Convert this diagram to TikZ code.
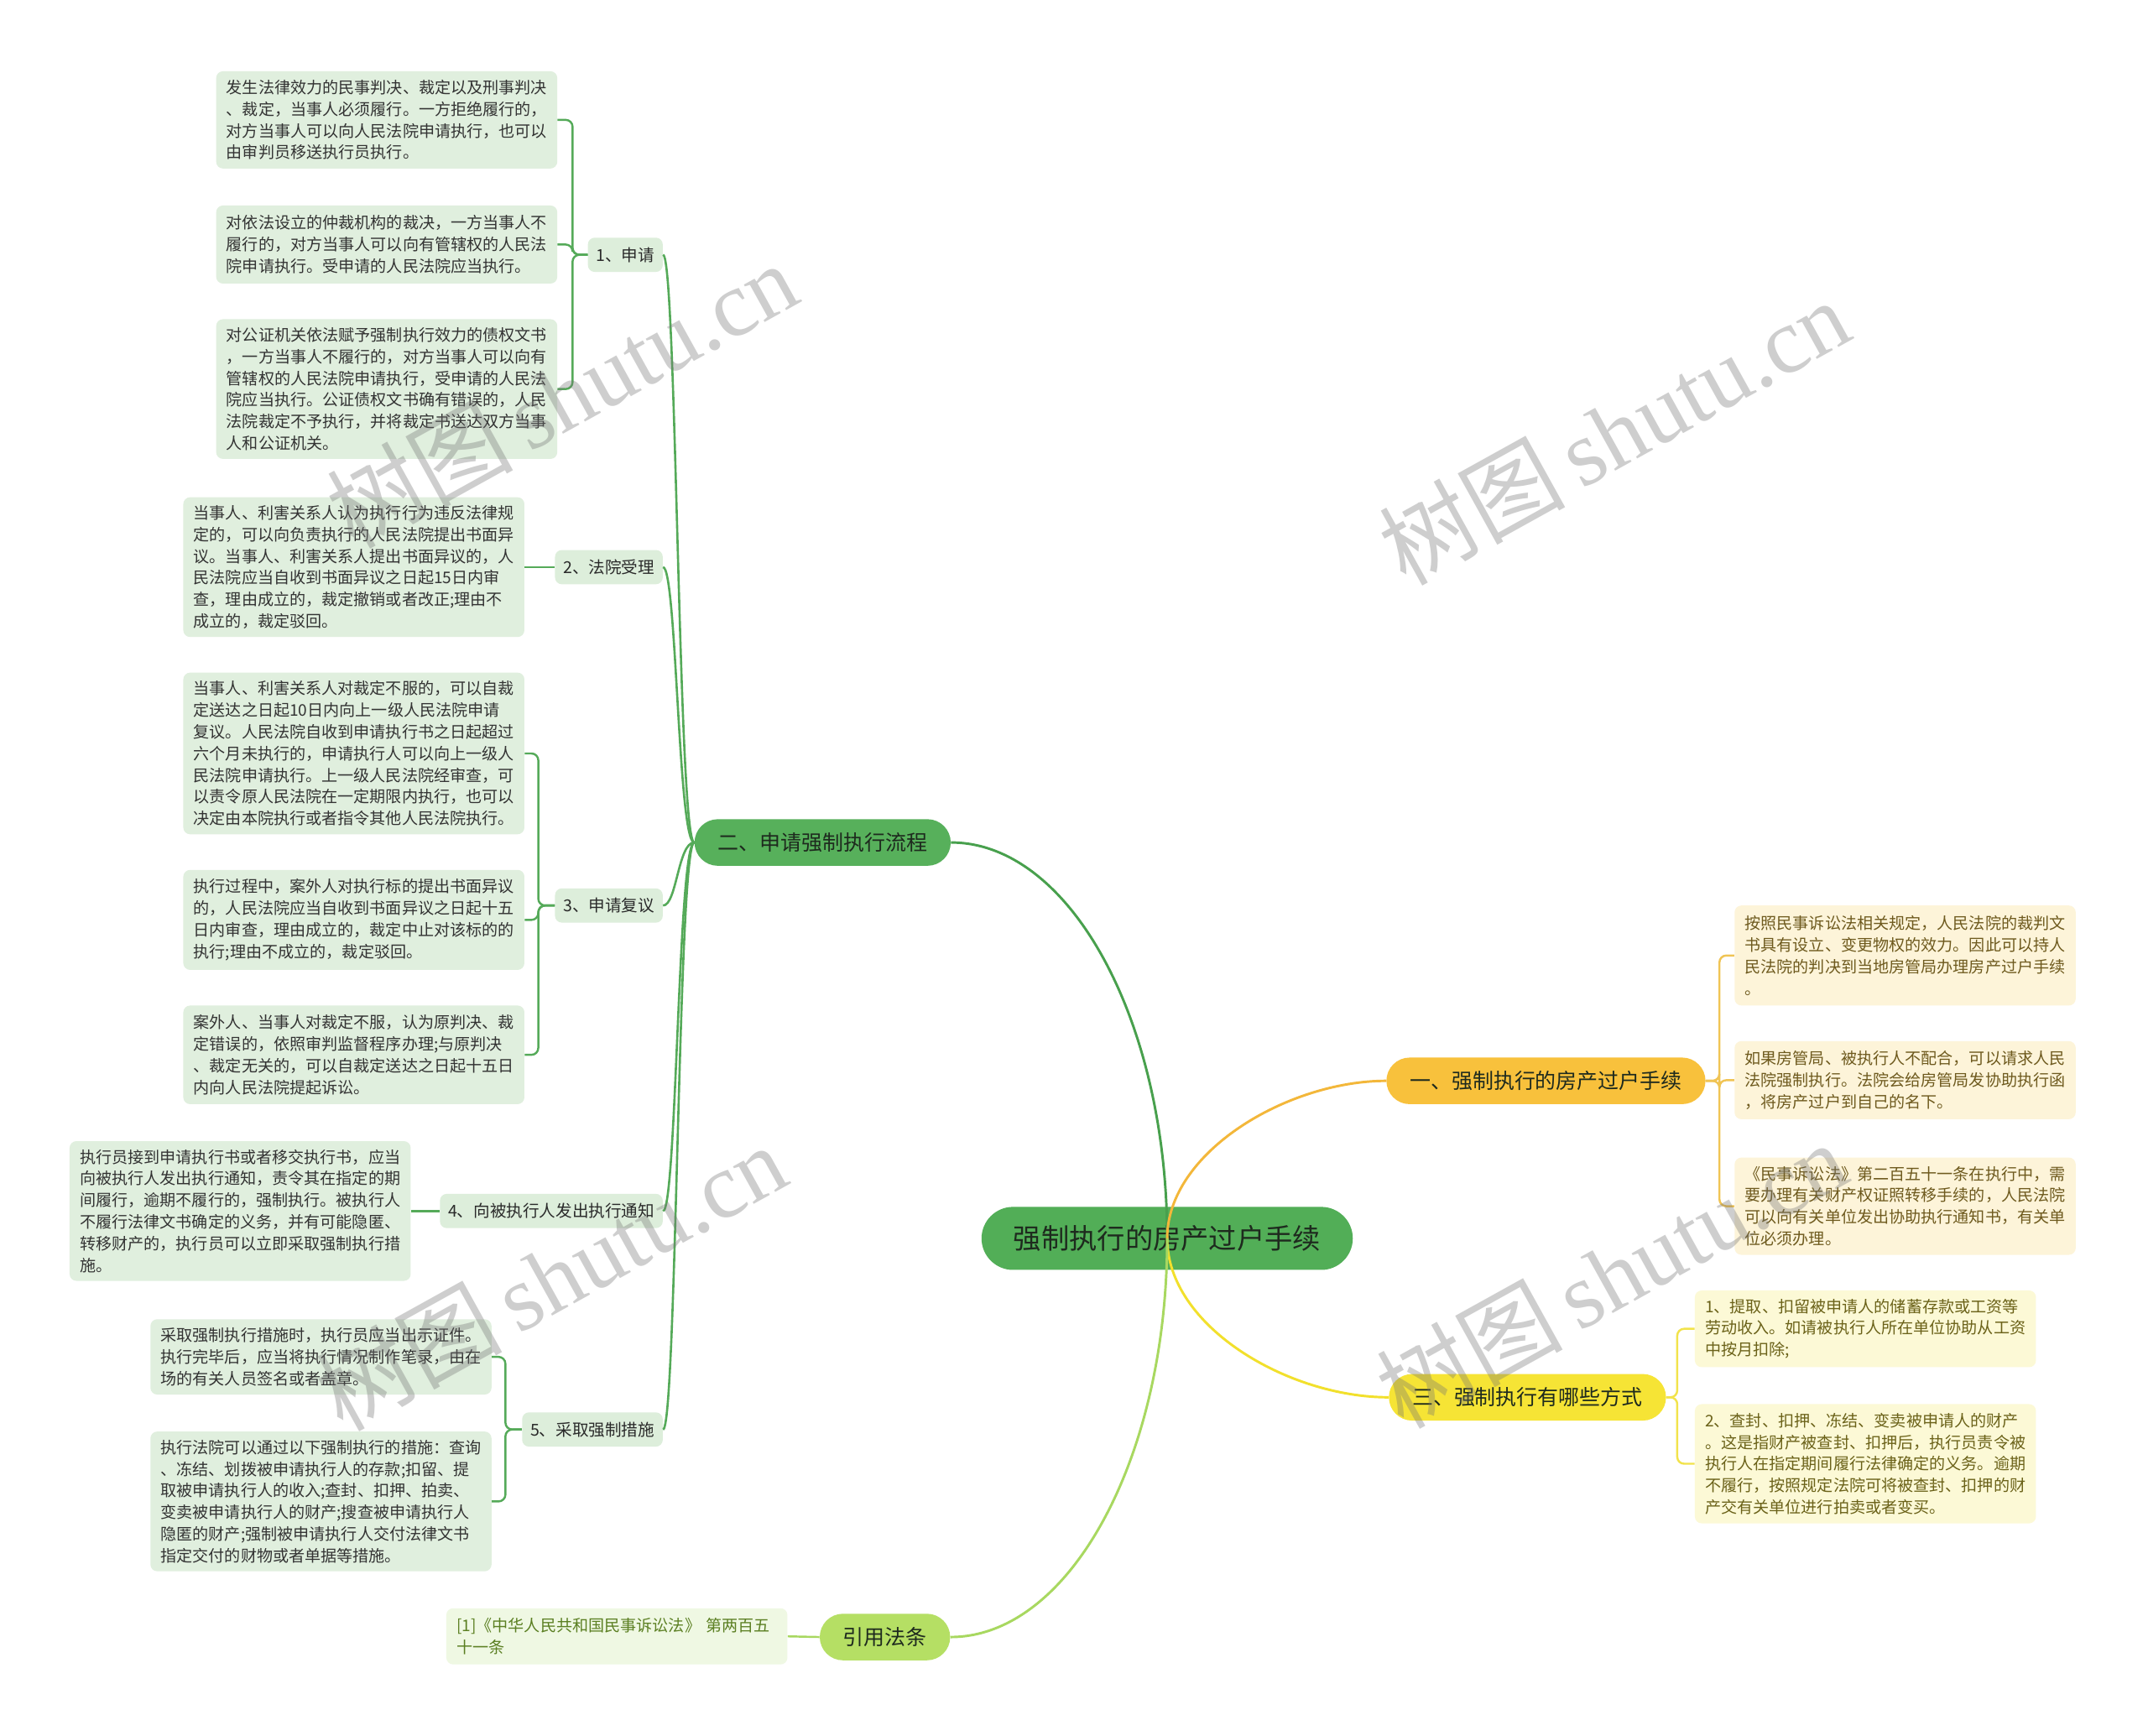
\documentclass[tikz,border=0pt]{standalone}
\usepackage{fontspec}
\setmainfont{Noto Sans CJK SC}
\newfontfamily\wmlatin{Liberation Serif}
\newfontfamily\wmcjk{Noto Sans CJK SC}
\usetikzlibrary{calc}
\definecolor{centralfill}{HTML}{52AE57}
\definecolor{twofill}{HTML}{57B05B}
\definecolor{subfill}{HTML}{DDEEDB}
\definecolor{leaffill}{HTML}{E0EFDE}
\definecolor{linetwo}{HTML}{48A04D}
\definecolor{linesub}{HTML}{55AA59}
\definecolor{onefill}{HTML}{F8C13C}
\definecolor{lineone}{HTML}{F3B73A}
\definecolor{dfill}{HTML}{FDF4D9}
\definecolor{dline}{HTML}{F0C454}
\definecolor{dtext}{HTML}{6E5A1E}
\definecolor{threefill}{HTML}{F6E435}
\definecolor{linethree}{HTML}{F2E02C}
\definecolor{efill}{HTML}{FCF9D6}
\definecolor{eline}{HTML}{F2E34B}
\definecolor{etext}{HTML}{6B6219}
\definecolor{citefill}{HTML}{B5DF64}
\definecolor{linecite}{HTML}{A8D860}
\definecolor{citebox}{HTML}{EFF8E3}
\definecolor{citetext}{HTML}{5B7F22}
\definecolor{darktext}{HTML}{1E2A1E}
\definecolor{subtext}{HTML}{2A2A2A}
\definecolor{leaftext}{HTML}{333333}
\newcommand\leaffs{\fontsize{11.7pt}{15.8pt}\selectfont}
\newcommand\subfs{\fontsize{12pt}{14pt}\selectfont}
\newcommand\branchfs{\fontsize{15.3pt}{18pt}\selectfont}
\newcommand\centralfs{\fontsize{20.4pt}{24pt}\selectfont}
\newcommand\wmfs{\fontsize{68pt}{68pt}\selectfont}
\tikzset{
  centralnode/.style={fill=centralfill, rounded corners=23pt, minimum width=271pt, minimum height=46pt, inner xsep=0pt, font=\centralfs, text=darktext},
  branchnode/.style={rounded corners=17pt, minimum height=34pt, inner xsep=17pt, inner ysep=0pt, font=\branchfs, text=darktext},
  subnode/.style={fill=subfill, rounded corners=5pt, minimum height=25pt, inner xsep=6pt, inner ysep=0pt, font=\subfs, text=subtext},
  leafbox/.style={rounded corners=5pt, text width=234pt, align=left, inner xsep=7.5pt, inner ysep=3pt, font=\leaffs},
  greenleaf/.style={leafbox, fill=leaffill, text=leaftext},
  dleaf/.style={leafbox, fill=dfill, text=dtext},
  eleaf/.style={leafbox, fill=efill, text=etext},
  citeleaf/.style={leafbox, fill=citebox, text=citetext},
  mainline/.style={line width=1.8pt},
  subline/.style={draw=linesub, line width=1.6pt},
  bracket/.style={line width=1.5pt, rounded corners=5pt},
  watermark/.style={text=black!55, opacity=0.35, rotate=29, inner sep=0pt}
}
\begin{document}
\begin{tikzpicture}[x=1pt,y=-1pt]
\useasboundingbox (0,0) rectangle (1568,1267);
\fill[white] (0,0) rectangle (1568,1267);

% central and main branches
\node[centralnode] (C) at (852,904) {强制执行的房产过户手续};
\node[branchnode, fill=twofill] (B2) at (600.5,615) {二、申请强制执行流程};
\node[branchnode, fill=onefill] (B1) at (1128.5,789) {一、强制执行的房产过户手续};
\node[branchnode, fill=threefill] (B3) at (1115,1020) {三、强制执行有哪些方式};
\node[branchnode, fill=citefill] (B4) at (646,1195) {引用法条};

% sub nodes of branch two
\node[subnode, anchor=east] (S1) at (484,186) {1、申请};
\node[subnode, anchor=east] (S2) at (484,414) {2、法院受理};
\node[subnode, anchor=east] (S3) at (484,661) {3、申请复议};
\node[subnode, anchor=east] (S4) at (484,884) {4、向被执行人发出执行通知};
\node[subnode, anchor=east] (S5) at (484,1043.5) {5、采取强制措施};

% leaves of 1
\node[greenleaf, anchor=east, minimum height=71pt] (A1) at (407,87.5) {发生法律效力的民事判决、裁定以及刑事判决\\、裁定，当事人必须履行。一方拒绝履行的，\\对方当事人可以向人民法院申请执行，也可以\\由审判员移送执行员执行。};
\node[greenleaf, anchor=east, minimum height=57pt] (A2) at (407,178.5) {对依法设立的仲裁机构的裁决，一方当事人不\\履行的，对方当事人可以向有管辖权的人民法\\院申请执行。受申请的人民法院应当执行。};
\node[greenleaf, anchor=east, minimum height=102pt] (A3) at (407,284) {对公证机关依法赋予强制执行效力的债权文书\\，一方当事人不履行的，对方当事人可以向有\\管辖权的人民法院申请执行，受申请的人民法\\院应当执行。公证债权文书确有错误的，人民\\法院裁定不予执行，并将裁定书送达双方当事\\人和公证机关。};

% leaf of 2
\node[greenleaf, anchor=east, minimum height=102pt] (L2) at (383,414) {当事人、利害关系人认为执行行为违反法律规\\定的，可以向负责执行的人民法院提出书面异\\议。当事人、利害关系人提出书面异议的，人\\民法院应当自收到书面异议之日起15日内审\\查，理由成立的，裁定撤销或者改正;理由不\\成立的，裁定驳回。};

% leaves of 3
\node[greenleaf, anchor=east, minimum height=118pt] (M1) at (383,550) {当事人、利害关系人对裁定不服的，可以自裁\\定送达之日起10日内向上一级人民法院申请\\复议。人民法院自收到申请执行书之日起超过\\六个月未执行的，申请执行人可以向上一级人\\民法院申请执行。上一级人民法院经审查，可\\以责令原人民法院在一定期限内执行，也可以\\决定由本院执行或者指令其他人民法院执行。};
\node[greenleaf, anchor=east, minimum height=73pt] (M2) at (383,671.5) {执行过程中，案外人对执行标的提出书面异议\\的，人民法院应当自收到书面异议之日起十五\\日内审查，理由成立的，裁定中止对该标的的\\执行;理由不成立的，裁定驳回。};
\node[greenleaf, anchor=east, minimum height=72pt] (M3) at (383,770) {案外人、当事人对裁定不服，认为原判决、裁\\定错误的，依照审判监督程序办理;与原判决\\、裁定无关的，可以自裁定送达之日起十五日\\内向人民法院提起诉讼。};

% leaf of 4
\node[greenleaf, anchor=east, minimum height=102pt] (L4) at (300,884) {执行员接到申请执行书或者移交执行书，应当\\向被执行人发出执行通知，责令其在指定的期\\间履行，逾期不履行的，强制执行。被执行人\\不履行法律文书确定的义务，并有可能隐匿、\\转移财产的，执行员可以立即采取强制执行措\\施。};

% leaves of 5
\node[greenleaf, anchor=east, minimum height=55pt] (N1) at (359,990.5) {采取强制执行措施时，执行员应当出示证件。\\执行完毕后，应当将执行情况制作笔录，由在\\场的有关人员签名或者盖章。};
\node[greenleaf, anchor=east, minimum height=102pt] (N2) at (359,1096) {执行法院可以通过以下强制执行的措施：查询\\、冻结、划拨被申请执行人的存款;扣留、提\\取被申请执行人的收入;查封、扣押、拍卖、\\变卖被申请执行人的财产;搜查被申请执行人\\隐匿的财产;强制被申请执行人交付法律文书\\指定交付的财物或者单据等措施。};

% citation leaf
\node[citeleaf, anchor=east, minimum height=41pt] (Q1) at (575,1194.5) {[1]《中华人民共和国民事诉讼法》~第两百五\\十一条};

% leaves of branch one
\node[dleaf, anchor=west, minimum height=73pt] (D1) at (1266,697.5) {按照民事诉讼法相关规定，人民法院的裁判文\\书具有设立、变更物权的效力。因此可以持人\\民法院的判决到当地房管局办理房产过户手续\\。};
\node[dleaf, anchor=west, minimum height=57pt] (D2) at (1266,788.5) {如果房管局、被执行人不配合，可以请求人民\\法院强制执行。法院会给房管局发协助执行函\\，将房产过户到自己的名下。};
\node[dleaf, anchor=west, minimum height=71pt] (D3) at (1266,880.5) {《民事诉讼法》第二百五十一条在执行中，需\\要办理有关财产权证照转移手续的，人民法院\\可以向有关单位发出协助执行通知书，有关单\\位必须办理。};

% leaves of branch three
\node[eleaf, anchor=west, minimum height=56pt] (E1) at (1237,970) {1、提取、扣留被申请人的储蓄存款或工资等\\劳动收入。如请被执行人所在单位协助从工资\\中按月扣除;};
\node[eleaf, anchor=west, minimum height=87pt] (E2) at (1237,1068.5) {2、查封、扣押、冻结、变卖被申请人的财产\\。这是指财产被查封、扣押后，执行员责令被\\执行人在指定期间履行法律确定的义务。逾期\\不履行，按照规定法院可将被查封、扣押的财\\产交有关单位进行拍卖或者变买。};

% connectors from central node
\draw[mainline, draw=linetwo] (C.center) .. controls (852,745) and (781,615) .. (B2.east);
\draw[mainline, draw=lineone] (C.center) .. controls (852,841) and (940,789) .. (B1.west);
\draw[mainline, draw=linethree] (C.center) .. controls (852,968) and (940,1020) .. (B3.west);
\draw[mainline, draw=linecite] (C.center) .. controls (852,1064) and (781,1195) .. (B4.east);

% connectors branch two -> sub nodes
\draw[subline] (S1.east) .. controls (494,186) and (495,615) .. (B2.west);
\draw[subline] (S2.east) .. controls (494,414) and (495,615) .. (B2.west);
\draw[subline] (S3.east) .. controls (494,661) and (495,615) .. (B2.west);
\draw[subline] (S4.east) .. controls (494,884) and (495,615) .. (B2.west);
\draw[subline] (S5.east) .. controls (494,1043.5) and (495,615) .. (B2.west);

% brackets to green leaves
\draw[bracket, draw=linesub] (S1.west) -- ++(-11,0) |- (A1.east);
\draw[bracket, draw=linesub] (S1.west) -- ++(-11,0) |- (A2.east);
\draw[bracket, draw=linesub] (S1.west) -- ++(-11,0) |- (A3.east);
\draw[bracket, draw=linesub] (S2.west) -- (L2.east);
\draw[bracket, draw=linesub] (S3.west) -- ++(-12,0) |- (M1.east);
\draw[bracket, draw=linesub] (S3.west) -- ++(-12,0) |- (M2.east);
\draw[bracket, draw=linesub] (S3.west) -- ++(-12,0) |- (M3.east);
\draw[bracket, draw=linesub] (S4.west) -- (L4.east);
\draw[bracket, draw=linesub] (S5.west) -- ++(-12,0) |- (N1.east);
\draw[bracket, draw=linesub] (S5.west) -- ++(-12,0) |- (N2.east);
\draw[bracket, draw=linecite] (B4.west) -- (Q1.east);

% brackets on the right
\draw[bracket, draw=dline] (B1.east) -- ++(10,0) |- (D1.west);
\draw[bracket, draw=dline] (B1.east) -- ++(10,0) |- (D2.west);
\draw[bracket, draw=dline] (B1.east) -- ++(10,0) |- (D3.west);
\draw[bracket, draw=eline] (B3.east) -- ++(8,0) |- (E1.west);
\draw[bracket, draw=eline] (B3.east) -- ++(8,0) |- (E2.west);

% watermarks
\node[watermark] (W1) at (410,288) {\wmfs\wmcjk 树图\,\wmlatin shutu.cn};
\node[watermark] (W2) at (1178,315) {\wmfs\wmcjk 树图\,\wmlatin shutu.cn};
\node[watermark] (W3) at (402,932) {\wmfs\wmcjk 树图\,\wmlatin shutu.cn};
\node[watermark] (W4) at (1176,930) {\wmfs\wmcjk 树图\,\wmlatin shutu.cn};
\end{tikzpicture}
\end{document}
